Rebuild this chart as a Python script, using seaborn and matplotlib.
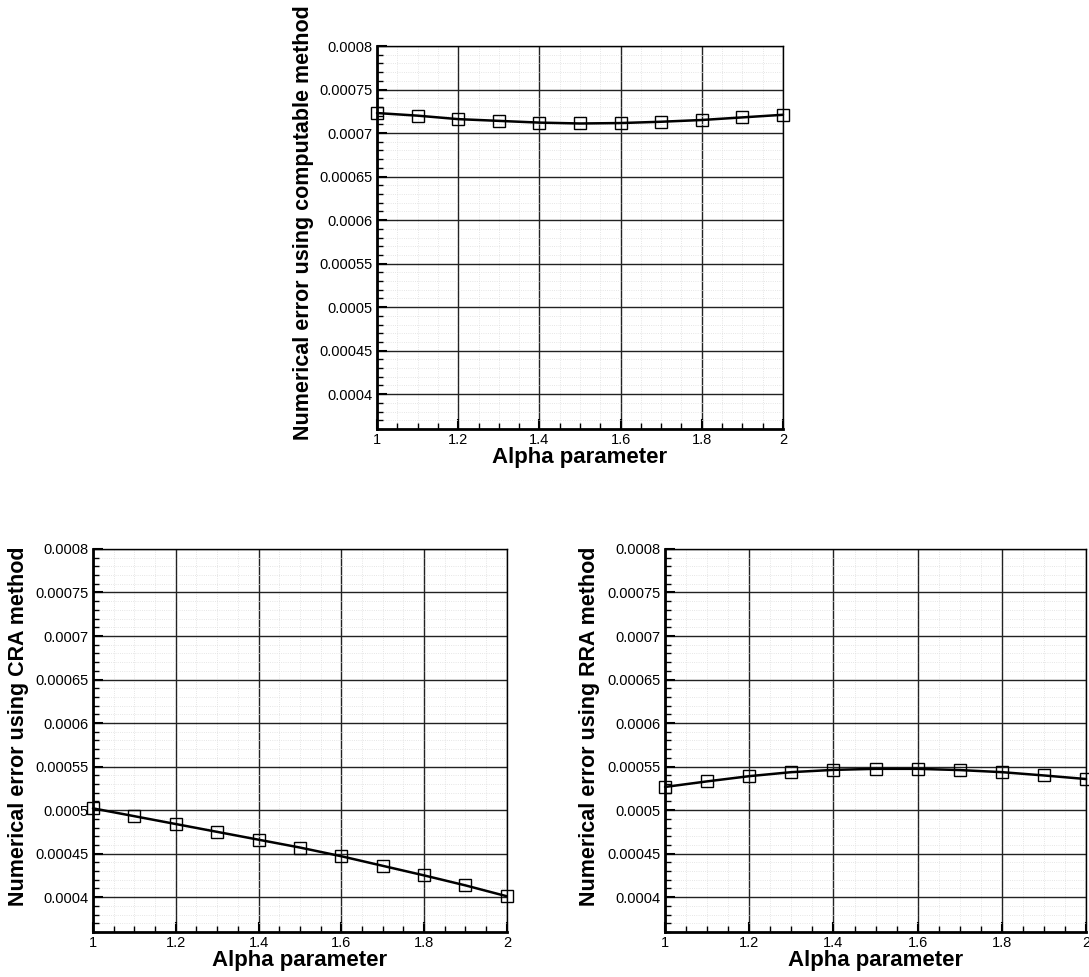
import numpy as np
import pandas as pd
import matplotlib
matplotlib.use('Agg')
import matplotlib.pyplot as plt
import seaborn as sns
from matplotlib.ticker import MultipleLocator, FuncFormatter

# values
alpha = [1.0, 1.1, 1.2, 1.3, 1.4, 1.5, 1.6, 1.7, 1.8, 1.9, 2.0]
err_computable = [0.000723, 0.000720, 0.000716, 0.000714, 0.000712, 0.000711,
                  0.0007115, 0.000713, 0.000715, 0.000718, 0.000721]
err_cra = [0.000502, 0.000493, 0.000484, 0.000475, 0.000466, 0.000457,
           0.000447, 0.000436, 0.000425, 0.0004135, 0.000401]
err_rra = [0.0005266, 0.000533, 0.000539, 0.0005436, 0.0005462, 0.0005474,
           0.0005474, 0.000546, 0.0005436, 0.0005398, 0.0005357]

sns.set_theme(style='white')
plt.rcParams['font.family'] = ['Liberation Sans', 'DejaVu Sans']

fig = plt.figure(figsize=(10.89, 9.77), dpi=100)

# axes boxes in figure fraction
ax_top = fig.add_axes([0.3462, 0.5609, 0.3728, 0.392])
ax_cra = fig.add_axes([0.0854, 0.0461, 0.380, 0.392])
ax_rra = fig.add_axes([0.6107, 0.0461, 0.3866, 0.392])

panels = [
    (ax_top, err_computable, 'Numerical error using computable method'),
    (ax_cra, err_cra, 'Numerical error using CRA method'),
    (ax_rra, err_rra, 'Numerical error using RRA method'),
]

for ax, err, ylab in panels:
    df = pd.DataFrame({'alpha': alpha, 'error': err})
    sns.lineplot(data=df, x='alpha', y='error', ax=ax, color='black', linewidth=1.8,
                 marker='s', markersize=8, markerfacecolor='none',
                 markeredgecolor='black', markeredgewidth=1.0, clip_on=False, zorder=5)
    ax.set_xlim(1, 2)
    ax.set_ylim(0.00036, 0.0008)
    ax.xaxis.set_major_locator(MultipleLocator(0.2))
    ax.xaxis.set_minor_locator(MultipleLocator(0.05))
    ax.yaxis.set_major_locator(MultipleLocator(0.00005))
    ax.yaxis.set_minor_locator(MultipleLocator(0.00001))
    ax.xaxis.set_major_formatter(FuncFormatter(lambda v, p: '%g' % round(v, 4)))
    ax.yaxis.set_major_formatter(FuncFormatter(lambda v, p: '%g' % round(v, 7)))
    ax.grid(which='major', color='#222222', linewidth=1.0, linestyle='-')
    ax.grid(which='minor', color='#dddddd', linewidth=0.6, linestyle=':')
    ax.set_axisbelow(True)
    ax.tick_params(which='both', direction='in', left=True, bottom=True,
                   top=False, right=False, colors='black')
    ax.tick_params(which='major', length=7, width=1.5, labelsize=10.5, pad=3)
    ax.tick_params(which='minor', length=4, width=1.0)
    for side in ['top', 'right']:
        ax.spines[side].set_linewidth(1.0)
        ax.spines[side].set_color('black')
    for side in ['left', 'bottom']:
        ax.spines[side].set_linewidth(2.0)
        ax.spines[side].set_color('black')
    ax.set_xlabel('Alpha parameter', fontsize=16, fontweight='bold', labelpad=0, color='black')
    ax.set_ylabel(ylab, fontsize=15.5, fontweight='bold', color='black')
    ax.yaxis.set_label_coords(-0.155, 0.538)

fig.savefig('out.png', dpi=100)
